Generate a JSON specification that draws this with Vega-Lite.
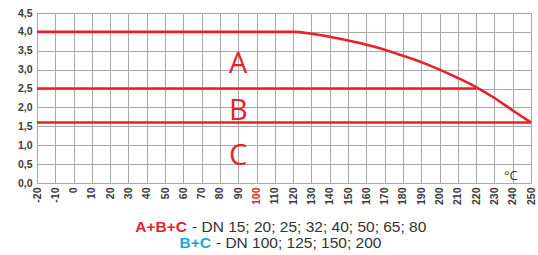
{
  "$schema": "https://vega.github.io/schema/vega-lite/v6.json",
  "width": 494,
  "height": 170,
  "autosize": {"type": "none"},
  "padding": {"left": 37, "top": 13, "right": 7, "bottom": 72},
  "background": "white",
  "config": {
    "view": {"stroke": "#a8a8a8", "strokeWidth": 1},
    "font": "Liberation Sans"
  },
  "datasets": {
    "lines": [
      {"series": "A", "t": -20, "p": 4.0},
      {"series": "A", "t": 120, "p": 4.0},
      {"series": "A", "t": 130, "p": 3.95},
      {"series": "A", "t": 140, "p": 3.87},
      {"series": "A", "t": 150, "p": 3.77},
      {"series": "A", "t": 160, "p": 3.66},
      {"series": "A", "t": 170, "p": 3.53},
      {"series": "A", "t": 180, "p": 3.37},
      {"series": "A", "t": 190, "p": 3.2},
      {"series": "A", "t": 200, "p": 3.0},
      {"series": "A", "t": 210, "p": 2.78},
      {"series": "A", "t": 220, "p": 2.54},
      {"series": "A", "t": 230, "p": 2.25},
      {"series": "A", "t": 240, "p": 1.92},
      {"series": "A", "t": 250, "p": 1.6},
      {"series": "B", "t": -20, "p": 2.5},
      {"series": "B", "t": 220, "p": 2.5},
      {"series": "C", "t": -20, "p": 1.6},
      {"series": "C", "t": 250, "p": 1.6}
    ],
    "zones": [
      {"label": "A", "t": 90, "p": 2.91},
      {"label": "B", "t": 90, "p": 1.67},
      {"label": "C", "t": 90, "p": 0.48}
    ],
    "unit": [
      {"label": "°C", "t": 239, "p": 0.08}
    ],
    "legendKey": [
      {"label": "A+B+C", "t": 62, "p": -1.3, "kind": "red"},
      {"label": "B+C", "t": 75.1, "p": -1.72, "kind": "blue"}
    ],
    "legendText": [
      {"label": "- DN 15; 20; 25; 32; 40; 50; 65; 80", "t": 64.7, "p": -1.3},
      {"label": "- DN 100; 125; 150; 200", "t": 77.8, "p": -1.72}
    ]
  },
  "encoding": {
    "x": {
      "field": "t", "type": "quantitative",
      "scale": {"domain": [-20, 250], "nice": false, "zero": false},
      "axis": {
        "title": null,
        "values": [-20,-10,0,10,20,30,40,50,60,70,80,90,100,110,120,130,140,150,160,170,180,190,200,210,220,230,240,250],
        "labelExpr": "datum.value < 0 ? '-' + (-datum.value) : '' + datum.value",
        "labelAngle": 270,
        "labelAlign": "right",
        "labelBaseline": "middle",
        "labelFont": "Liberation Sans",
        "labelFontSize": 10.5,
        "labelFontWeight": "bold",
        "labelColor": {"condition": {"test": "datum.value === 100", "value": "#e8202a"}, "value": "#3a3a3a"},
        "labelPadding": 4,
        "labelOverlap": false,
        "labelFlush": false,
        "ticks": false,
        "domain": false,
        "grid": true,
        "gridColor": "#a8a8a8",
        "gridWidth": 1,
        "gridOpacity": 1
      }
    },
    "y": {
      "field": "p", "type": "quantitative",
      "scale": {"domain": [0, 4.5], "nice": false},
      "axis": {
        "title": null,
        "values": [0, 0.5, 1, 1.5, 2, 2.5, 3, 3.5, 4, 4.5],
        "labelExpr": "replace(format(datum.value, '.1f'), '.', ',')",
        "labelFont": "Liberation Sans",
        "labelFontSize": 10.5,
        "labelFontWeight": "bold",
        "labelColor": "#3a3a3a",
        "labelPadding": 5,
        "labelOverlap": false,
        "labelFlush": false,
        "ticks": false,
        "domain": false,
        "grid": true,
        "gridColor": "#a8a8a8",
        "gridWidth": 1,
        "gridOpacity": 1
      }
    }
  },
  "layer": [
    {
      "data": {"name": "lines"},
      "mark": {"type": "line", "color": "#e8202a", "strokeWidth": 2.6, "interpolate": "monotone", "clip": false},
      "encoding": {
        "detail": {"field": "series"}
      }
    },
    {
      "data": {"name": "zones"},
      "mark": {"type": "text", "color": "#e8202a", "font": "Open Sans", "fontSize": 29, "align": "center", "baseline": "alphabetic"},
      "encoding": {
        "text": {"field": "label"}
      }
    },
    {
      "data": {"name": "unit"},
      "mark": {"type": "text", "color": "#333333", "font": "Open Sans", "fontSize": 13, "align": "center", "baseline": "alphabetic"},
      "encoding": {
        "text": {"field": "label"}
      }
    },
    {
      "data": {"name": "legendKey"},
      "mark": {"type": "text", "font": "Liberation Sans", "fontSize": 15.5, "fontWeight": "bold", "align": "right", "baseline": "alphabetic", "clip": false},
      "encoding": {
        "text": {"field": "label"},
        "color": {"field": "kind", "type": "nominal", "scale": {"domain": ["red", "blue"], "range": ["#e8202a", "#1aa8e2"]}, "legend": null}
      }
    },
    {
      "data": {"name": "legendText"},
      "mark": {"type": "text", "color": "#333333", "font": "Liberation Sans", "fontSize": 15.5, "align": "left", "baseline": "alphabetic", "clip": false},
      "encoding": {
        "text": {"field": "label"}
      }
    }
  ]
}
